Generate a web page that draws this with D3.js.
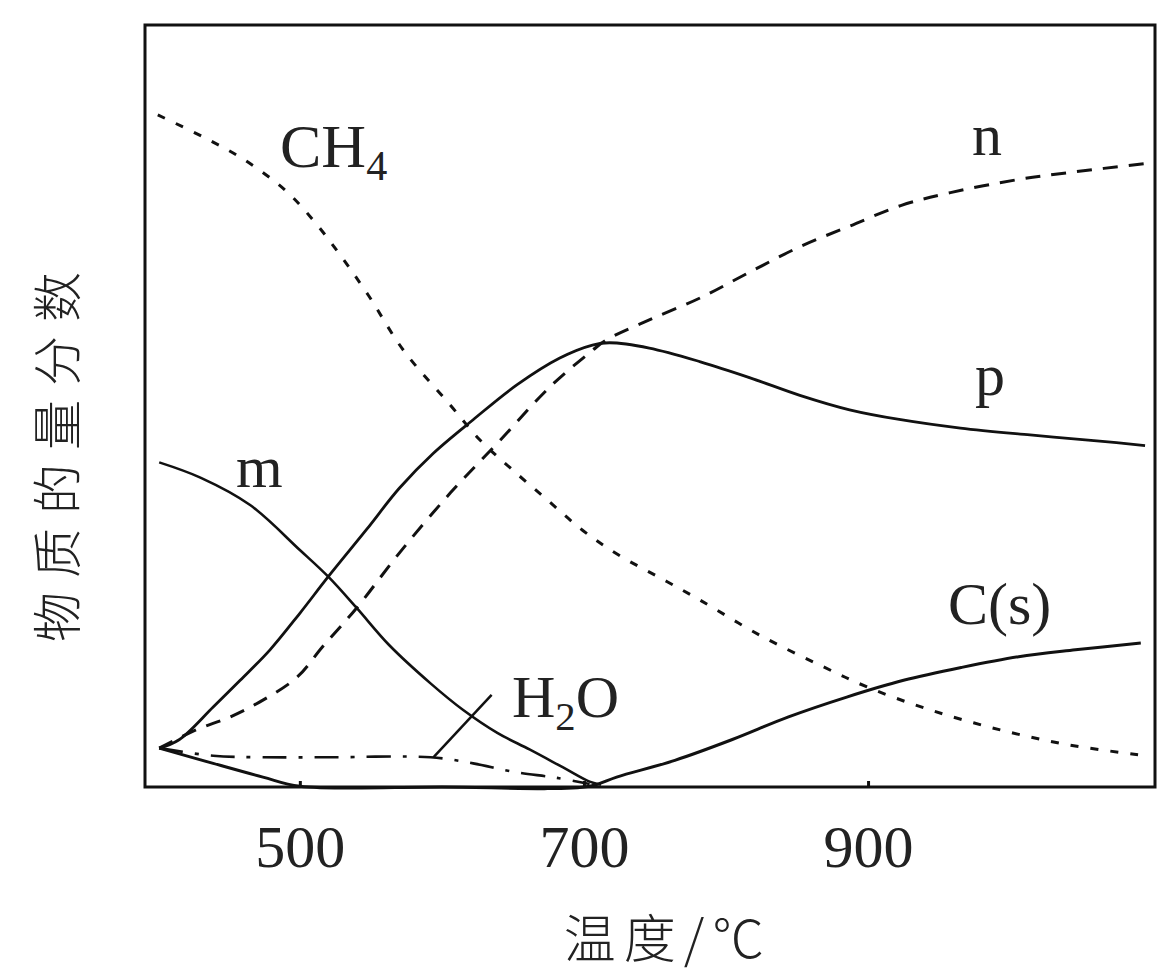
<!DOCTYPE html>
<html>
<head>
<meta charset="utf-8">
<script src="https://cdn.jsdelivr.net/npm/d3@7"></script>
<style>
  body { margin: 0; background: #fff; }
  text { fill: #222; }
</style>
</head>
<body>
<div id="chart"></div>
<script>
// temperatures (°C) and mole fractions (arbitrary 0-100 units)
const ch4T = [400, 432, 461, 491, 512, 530, 548, 573, 606, 627, 648, 674, 699, 723, 758, 782, 824, 866, 901, 944, 993, 1042, 1092]
const ch4V = [88.2, 85.3, 82.3, 78.1, 73.8, 69.4, 64.6, 57.3, 50.1, 45.5, 41.9, 37.7, 33.7, 30.6, 27.0, 24.5, 19.9, 16.0, 13.0, 10.1, 7.5, 5.5, 4.2]

const mT = [401, 430, 465, 500, 520, 540, 563, 592, 615, 639, 662, 685, 704, 712]
const mV = [42.6, 40.6, 37.0, 31.1, 27.6, 23.5, 18.6, 13.6, 10.1, 7.1, 4.9, 2.6, 0.7, 0.3]

const pT = [401, 415, 439, 458, 479, 500, 520, 547, 570, 594, 622, 653, 683, 706, 718, 746, 782, 817, 852, 887, 923, 965, 1014, 1063, 1095]
const pV = [5.1, 6.2, 10.5, 14.0, 18.0, 22.8, 27.6, 33.8, 39.2, 43.8, 48.2, 52.8, 56.3, 58.0, 58.3, 57.6, 55.8, 53.7, 51.4, 49.5, 48.2, 47.1, 46.2, 45.4, 44.8]

const nT = [401, 427, 451, 474, 498, 516, 540, 570, 606, 641, 676, 706, 716, 746, 782, 817, 852, 887, 923, 958, 1005, 1040, 1099]
const nV = [5.1, 7.5, 9.2, 11.4, 14.4, 18.4, 23.5, 30.7, 38.6, 45.5, 52.5, 57.3, 58.7, 61.3, 64.2, 67.6, 70.9, 73.6, 76.3, 78.0, 79.7, 80.6, 81.9]

const h2oT = [401, 439, 474, 521, 592, 622, 650, 681, 704]
const h2oV = [5.1, 4.1, 3.9, 3.9, 3.9, 3.1, 2.0, 1.2, 0.4]

const csT = [401, 439, 474, 500, 600, 704, 723, 764, 804, 844, 885, 925, 966, 1006, 1046, 1092]
const csV = [5.1, 3.1, 1.3, 0.1, 0.0, 0.1, 1.3, 3.5, 6.2, 9.2, 11.8, 14.0, 15.7, 17.1, 18.0, 18.9]

const xTicks = [500, 700, 900]

const width = 1159
const height = 974

const svg = d3
  .select('#chart')
  .append('svg')
  .attr('width', width)
  .attr('height', height)

const xPositionScale = d3.scaleLinear().domain([391, 1102]).range([145, 1155])
const yPositionScale = d3.scaleLinear().domain([0, 100]).range([787, 25])

const line = d3
  .line()
  .x(d => xPositionScale(d[0]))
  .y(d => yPositionScale(d[1]))
  .curve(d3.curveCatmullRom.alpha(0.5))

const zip = (a, b) => a.map((t, i) => [t, b[i]])

const series = [
  { pts: zip(ch4T, ch4V), dash: '8,12', w: 3 },
  { pts: zip(mT, mV), dash: null, w: 2.6 },
  { pts: zip(pT, pV), dash: null, w: 2.8 },
  { pts: zip(nT, nV), dash: '15,11', w: 3 },
  { pts: zip(h2oT, h2oV), dash: '24,12,4,12', w: 2.6 },
  { pts: zip(csT, csV), dash: null, w: 3 }
]

svg
  .selectAll('.curve')
  .data(series)
  .enter()
  .append('path')
  .attr('class', 'curve')
  .attr('d', d => line(d.pts))
  .attr('fill', 'none')
  .attr('stroke', '#111')
  .attr('stroke-width', d => d.w)
  .attr('stroke-dasharray', d => d.dash)

// frame
svg
  .append('rect')
  .attr('x', xPositionScale.range()[0])
  .attr('y', yPositionScale.range()[1])
  .attr('width', xPositionScale.range()[1] - xPositionScale.range()[0])
  .attr('height', yPositionScale.range()[0] - yPositionScale.range()[1])
  .attr('fill', 'none')
  .attr('stroke', '#111')
  .attr('stroke-width', 3)

// x axis ticks and labels
const xAxis = d3
  .axisBottom(xPositionScale)
  .tickValues(xTicks)
  .tickSize(-6)
  .tickPadding(37)

svg
  .append('g')
  .attr('class', 'axis x-axis')
  .attr('transform', 'translate(0,' + yPositionScale(0) + ')')
  .call(xAxis)
  .call(g => g.select('.domain').remove())
  .call(g => g.selectAll('line').attr('stroke', '#111').attr('stroke-width', 3))
  .call(g =>
    g
      .selectAll('text')
      .attr('font-family', 'Liberation Serif, serif')
      .attr('font-size', 60)
      .attr('fill', '#222')
  )

// axis titles
svg
  .append('text')
  .attr('x', 668)
  .attr('y', 958)
  .attr('text-anchor', 'middle')
  .attr('font-family', 'Noto Sans CJK SC, sans-serif')
  .attr('font-size', 52)
  .attr('font-weight', 300)
  .attr('letter-spacing', 8)
  .text('温度/℃')

svg
  .append('text')
  .attr('transform', 'translate(76,450) rotate(-90)')
  .attr('text-anchor', 'middle')
  .attr('font-family', 'Noto Sans CJK SC, sans-serif')
  .attr('font-size', 50)
  .attr('font-weight', 300)
  .attr('letter-spacing', 14)
  .text('物质的量分数')

// curve labels
const serif = 'Liberation Serif, serif'

function label(x, y, size, main, sub, after) {
  const t = svg
    .append('text')
    .attr('x', x)
    .attr('y', y)
    .attr('font-family', serif)
    .attr('font-size', size)
  t.append('tspan').text(main)
  if (sub) {
    t.append('tspan').attr('font-size', size * 0.68).attr('dy', 13).text(sub)
  }
  if (after) {
    t.append('tspan').attr('dy', -13).text(after)
  }
}

label(280, 167, 62, 'CH', '4')
label(972, 155, 60, 'n')
label(975, 395, 60, 'p')
label(236, 487, 60, 'm')
label(948, 624, 60, 'C(s)')
label(512, 717, 60, 'H', '2', 'O')

// pointer from H2O label to its curve
svg
  .append('line')
  .attr('x1', xPositionScale(635))
  .attr('y1', yPositionScale(12.1))
  .attr('x2', xPositionScale(594))
  .attr('y2', yPositionScale(3.9))
  .attr('stroke', '#111')
  .attr('stroke-width', 2.5)
</script>
</body>
</html>
